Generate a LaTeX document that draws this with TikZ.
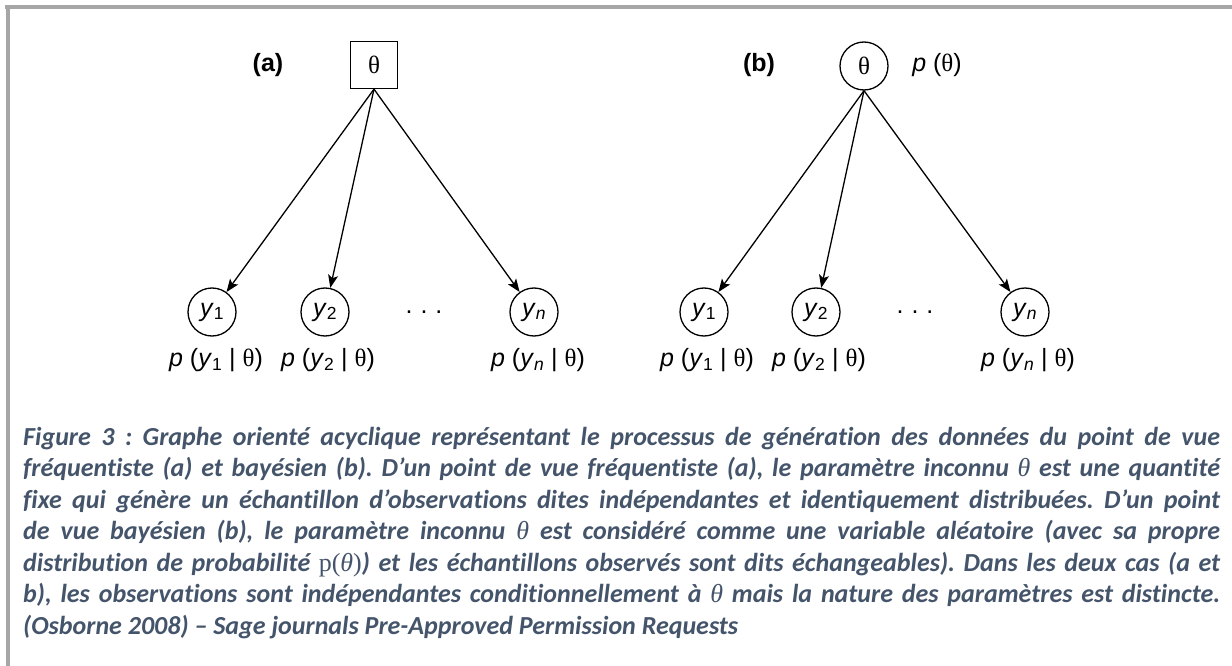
\documentclass[tikz,border=0pt]{standalone}
\usepackage{fontspec}
\setmainfont{Liberation Sans}
\newfontfamily\capfont[Ligatures=NoCommon]{Carlito}
\newfontfamily\thetafont{Liberation Serif}
\usetikzlibrary{arrows.meta}
\definecolor{capblue}{RGB}{68,84,106}
\definecolor{framegrey}{RGB}{166,166,166}
\newcommand{\thet}{{\thetafont θ}}
\newcommand{\capth}{{\thetafont\mdseries\itshape θ}}
\newcommand{\plab}[1]{\textit{p}\ (#1\ |\ \thet)}
\frenchspacing

\begin{document}
\begin{tikzpicture}[x=1pt,y=-1pt,
	lab/.style={inner sep=0pt, font=\fontsize{25}{28}\selectfont},
	var/.style={draw, line width=1.3pt, inner sep=0pt, minimum size=48pt, font=\fontsize{25}{28}\selectfont},
	edge/.style={line width=1.3pt, -{Stealth[length=13pt,width=10pt,inset=3pt]}},
	caption/.style={anchor=north west, inner sep=0pt, text width=1197pt, align=justify,
		text=capblue, font=\capfont\bfseries\itshape\fontsize{26}{31.5}\selectfont}]
	\useasboundingbox (0,0) rectangle (1232,666);
	\fill[framegrey] (5,5) rectangle (1232,9);
	\fill[framegrey] (6,5) rectangle (10,666);

	% (a) frequentist
	\node[lab, font=\bfseries\fontsize{25}{28}\selectfont] (la) at (268,65) {(a)};
	\node[var, rectangle, minimum size=47pt] (tA) at (374,65) {\thet};
	\node[var, circle] (yA1) at (212,312) {\textit{y}\textsubscript{1}};
	\node[var, circle] (yA2) at (325,312) {\textit{y}\textsubscript{2}};
	\node[var, circle] (yAn) at (534,312) {\textit{y}\textsubscript{\textit{n}}};
	\node[lab] (dA) at (424,312) {.\hspace{8pt}.\hspace{8pt}.};
	\node[lab] (pA1) at (216,360) {\plab{\textit{y}\textsubscript{1}}};
	\node[lab] (pA2) at (328,360) {\plab{\textit{y}\textsubscript{2}}};
	\node[lab] (pAn) at (538,360) {\plab{\textit{y}\textsubscript{\textit{n}}}};

	% (b) bayesian
	\node[lab, font=\bfseries\fontsize{25}{28}\selectfont] (lb) at (759,65) {(b)};
	\node[var, circle] (tB) at (864,66) {\thet};
	\node[lab] (pt) at (937,65) {\textit{p}\ (\thet)};
	\node[var, circle] (yB1) at (704,312) {\textit{y}\textsubscript{1}};
	\node[var, circle] (yB2) at (816,312) {\textit{y}\textsubscript{2}};
	\node[var, circle] (yBn) at (1025,312) {\textit{y}\textsubscript{\textit{n}}};
	\node[lab] (dB) at (915,312) {.\hspace{8pt}.\hspace{8pt}.};
	\node[lab] (pB1) at (707,360) {\plab{\textit{y}\textsubscript{1}}};
	\node[lab] (pB2) at (819,360) {\plab{\textit{y}\textsubscript{2}}};
	\node[lab] (pBn) at (1028,360) {\plab{\textit{y}\textsubscript{\textit{n}}}};

	\def\list {tA/yA1, tA/yA2, tA/yAn, tB/yB1, tB/yB2, tB/yBn}  % list elements
	\foreach \u\v in \list
	{	\draw[edge] (\u.south) -- (\v);
	}

	\node[caption] (cap) at (23,427) {Figure 3 : Graphe orienté acyclique représentant le processus de génération des données du point de vue\linebreak
		fréquentiste (a) et bayésien (b). D’un point de vue fréquentiste (a), le paramètre inconnu \capth{} est une quantité\linebreak
		fixe qui génère un échantillon d’observations dites indépendantes et identiquement distribuées. D’un point\linebreak
		de vue bayésien (b), le paramètre inconnu \capth{} est considéré comme une variable aléatoire (avec sa propre\linebreak
		distribution de probabilité {\thetafont\mdseries\upshape p(\textit{θ})}) et les échantillons observés sont dits échangeables). Dans les deux cas (a et\linebreak
		b), les observations sont indépendantes conditionnellement à \capth{} mais la nature des paramètres est distincte.\linebreak
		(Osborne 2008) – Sage journals Pre-Approved Permission Requests};
\end{tikzpicture}
\end{document}
